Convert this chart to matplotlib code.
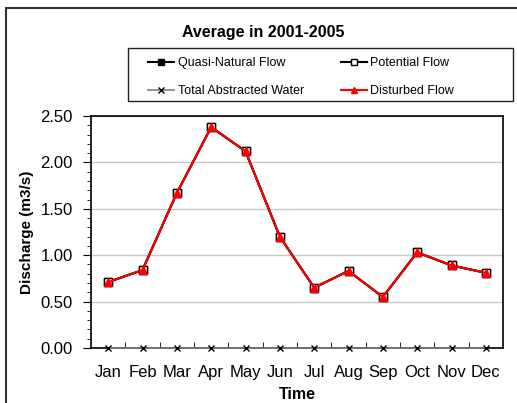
import matplotlib.pyplot as plt
from matplotlib.patches import Rectangle
from matplotlib.ticker import MultipleLocator, FixedLocator, FormatStrFormatter

plt.rcParams['font.family'] = ['Liberation Sans', 'DejaVu Sans']

months = ['Jan', 'Feb', 'Mar', 'Apr', 'May', 'Jun', 'Jul', 'Aug', 'Sep', 'Oct', 'Nov', 'Dec']
quasi_natural = [0.71, 0.84, 1.67, 2.38, 2.12, 1.20, 0.65, 0.83, 0.55, 1.03, 0.89, 0.81]
potential = [0.71, 0.84, 1.67, 2.38, 2.12, 1.20, 0.65, 0.83, 0.55, 1.03, 0.89, 0.81]
abstracted = [0, 0, 0, 0, 0, 0, 0, 0, 0, 0, 0, 0]
disturbed = [0.71, 0.84, 1.67, 2.38, 2.12, 1.20, 0.65, 0.83, 0.55, 1.03, 0.89, 0.81]

x = list(range(len(months)))

W, H = 517, 403
fig = plt.figure(figsize=(W / 100, H / 100), dpi=100)
ax = fig.add_axes([91 / W, 1 - 348 / H, 412 / W, 232 / H])

# outer chart border (only top and left visible)
fig.patches.append(Rectangle((6 / W, -0.2), 1.2, 1 - 8 / H + 0.2, transform=fig.transFigure,
                             fill=False, edgecolor='#333333', linewidth=1.5))
# legend box
fig.patches.append(Rectangle((128 / W, 1 - 101 / H), 385 / W, 53 / H, transform=fig.transFigure,
                             fill=False, edgecolor='#222222', linewidth=1))

l1, = ax.plot(x, quasi_natural, color='black', marker='s', markersize=6,
              markerfacecolor='black', markeredgecolor='black', linewidth=1.5)
l2, = ax.plot(x, potential, color='black', marker='s', markersize=6,
              markerfacecolor='white', markeredgecolor='black', linewidth=1.5)
l3, = ax.plot(x, abstracted, color='gray', marker='x', markersize=5,
              markeredgecolor='black', linewidth=1.2, clip_on=False, zorder=5)
l4, = ax.plot(x, disturbed, color='red', marker='^', markersize=6,
              markerfacecolor='red', markeredgecolor='red', linewidth=1.5)

ax.set_xlim(-0.5, 11.5)
ax.set_ylim(0, 2.5)
ax.yaxis.set_major_locator(MultipleLocator(0.5))
ax.yaxis.set_minor_locator(MultipleLocator(0.1))
ax.yaxis.set_major_formatter(FormatStrFormatter('%.2f'))
ax.set_xticks(x)
ax.set_xticklabels(months)
ax.xaxis.set_minor_locator(FixedLocator([i + 0.5 for i in range(11)]))
ax.tick_params(axis='x', which='major', length=0, labelsize=12, pad=12)
ax.tick_params(axis='x', which='minor', direction='in', length=4)
ax.tick_params(axis='y', which='major', length=6, labelsize=12, pad=7)
ax.tick_params(axis='y', which='minor', length=3)
ax.grid(axis='y', color='#c8c8c8', linewidth=1)
ax.set_axisbelow(True)
for s in ax.spines.values():
    s.set_linewidth(1.2)

ax.set_xlabel('Time', fontsize=11.5, fontweight='bold', labelpad=5)
ax.set_ylabel('Discharge (m3/s)', fontsize=11, fontweight='bold')
ax.yaxis.set_label_coords(-0.138, 0.5)

fig.text(263 / W, 1 - 32 / H, 'Average in 2001-2005', ha='center', va='center',
         fontsize=11.5, fontweight='bold')

leg = fig.legend([l1, l3, l2, l4],
                 ['Quasi-Natural Flow', 'Total Abstracted Water', 'Potential Flow', 'Disturbed Flow'],
                 ncol=2, loc='upper left', bbox_to_anchor=(148 / W, 1 - 57 / H),
                 fontsize=9, frameon=False, borderpad=0, borderaxespad=0,
                 handlelength=2.1, handletextpad=0.3, labelspacing=1.3,
                 columnspacing=2.9, markerscale=0.8)

fig.savefig('out.png', dpi=100)
